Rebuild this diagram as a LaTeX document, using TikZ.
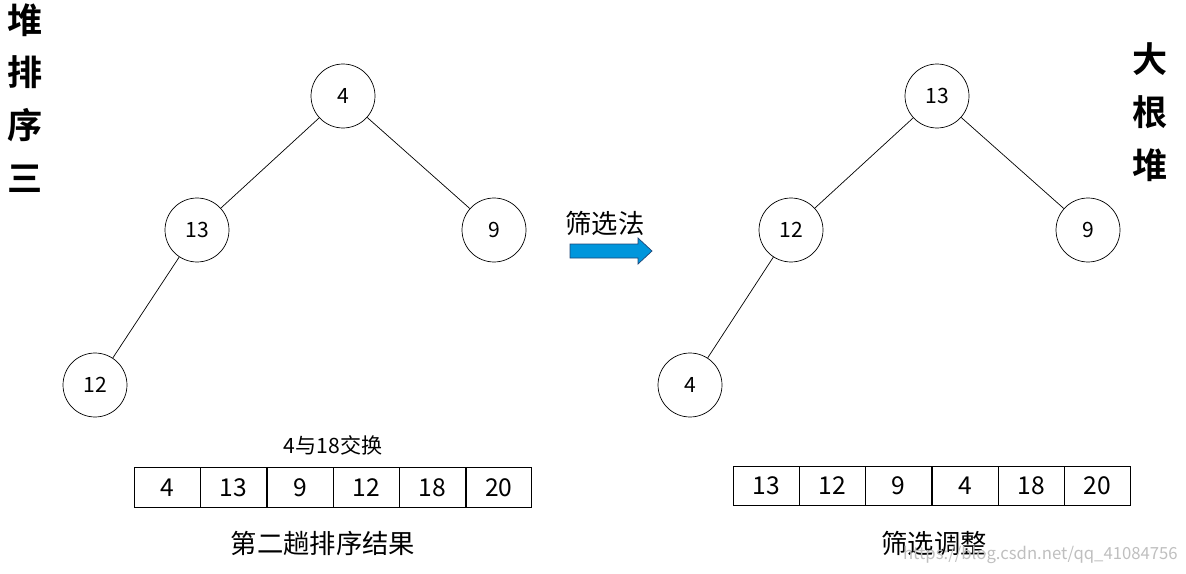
\documentclass[tikz,border=0pt]{standalone}
\usepackage{fontspec}
\setmainfont{Noto Sans CJK SC}
\newfontfamily\cjkb{Noto Sans CJK SC}[BoldFont=* Bold]
\begin{document}
\begin{tikzpicture}[x=0.02cm,y=-0.02cm,
  nd/.style={circle,draw,minimum size=1.28cm,inner sep=0pt,font=\fontsize{12}{12}\selectfont},
  cell/.style={draw,minimum width=1.32cm,minimum height=0.8cm,inner sep=0pt,anchor=north west,font=\fontsize{14}{14}\selectfont},
  lbl/.style={font=\fontsize{15}{15}\selectfont},
  big/.style={font=\fontsize{20}{20}\selectfont\bfseries,align=center}]
\useasboundingbox (0,0) rectangle (1186,574);
% left tree
\node[nd] (a1) at (343,96) {4};
\node[nd] (a2) at (197,230) {13};
\node[nd] (a3) at (494,230) {9};
\node[nd] (a4) at (95,385) {12};
\draw (a1)--(a2) (a1)--(a3) (a2)--(a4);
% right tree
\node[nd] (b1) at (937,96) {13};
\node[nd] (b2) at (791,230) {12};
\node[nd] (b3) at (1088,230) {9};
\node[nd] (b4) at (690,385) {4};
\draw (b1)--(b2) (b1)--(b3) (b2)--(b4);
% arrays
\foreach \v [count=\i from 0] in {4,13,9,12,18,20}
  \node[cell] (l\i) at (134+66.3*\i,467) {\v};
\foreach \v [count=\i from 0] in {13,12,9,4,18,20}
  \node[cell,minimum height=0.78cm] (r\i) at (733+66.2*\i,466) {\v};
\node[font=\fontsize{12}{12}\selectfont] (t1) at (333,445) {4与18交换};
\node[lbl] (t2) at (323,543) {第二趟排序结果};
\node[lbl] (t3) at (934,543) {筛选调整};
% arrow
\node[lbl] (t4) at (605,223) {筛选法};
\draw[fill={rgb,255:red,0;green,150;blue,220},draw={rgb,255:red,30;green,70;blue,120}]
  (570,244)--(638,244)--(638,238)--(652,251)--(638,264)--(638,258)--(570,258)--cycle;
% side titles
\node[big] (s1) at (25,98) {\cjkb 堆\\[10pt]\cjkb 排\\[10pt]\cjkb 序\\[10pt]\cjkb 三};
\node[big] (s2) at (1150,112) {\cjkb 大\\[10pt]\cjkb 根\\[10pt]\cjkb 堆};
\node[text=black!25,font=\fontsize{9.5}{9.5}\selectfont,anchor=east,inner sep=0pt] (wm) at (1178,555) {https://blog.csdn.net/qq\_41084756};
\end{tikzpicture}
\end{document}
